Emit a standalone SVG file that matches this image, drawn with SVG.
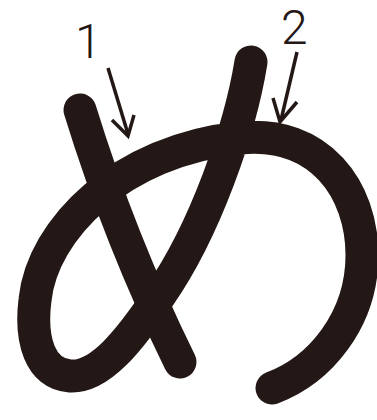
<svg xmlns="http://www.w3.org/2000/svg" width="377" height="420" viewBox="0 0 377 420">
<style>
.stroke{fill:none;stroke:#231815;stroke-width:33;stroke-linecap:round;stroke-linejoin:round}
.arrow{fill:none;stroke:#231815;stroke-width:3.5;stroke-linecap:butt;stroke-linejoin:miter}
.num{font-family:Roboto,"Liberation Sans",sans-serif;font-weight:300;fill:#231815}
</style>
<rect width="377" height="420" fill="#fff"/>
<g id="stroke2">
<path class="stroke" d="M251,62 C 240,130 205,230 160,295 C 130,340 100,378 70,376 C 40,374 30,340 35,300 C 42,230 120,150 240,138 C 320,130 362,190 362,255 C 362,320 320,370 272,388"/>
</g>
<g id="stroke1">
<path class="stroke" d="M80,110 Q 120,240 180,362"/>
</g>
<g id="labels">
<text class="num" x="75" y="58" font-size="48">1</text>
<text class="num" x="281" y="44" font-size="48">2</text>
</g>
<g id="connectors">
<path class="arrow" d="M108,68 L128,134"/>
<path class="arrow" d="M112,120 L128,136 L134,115"/>
<path class="arrow" d="M297,52 L281,120"/>
<path class="arrow" d="M273,98 L280,122 L297,102"/>
</g>
</svg>
